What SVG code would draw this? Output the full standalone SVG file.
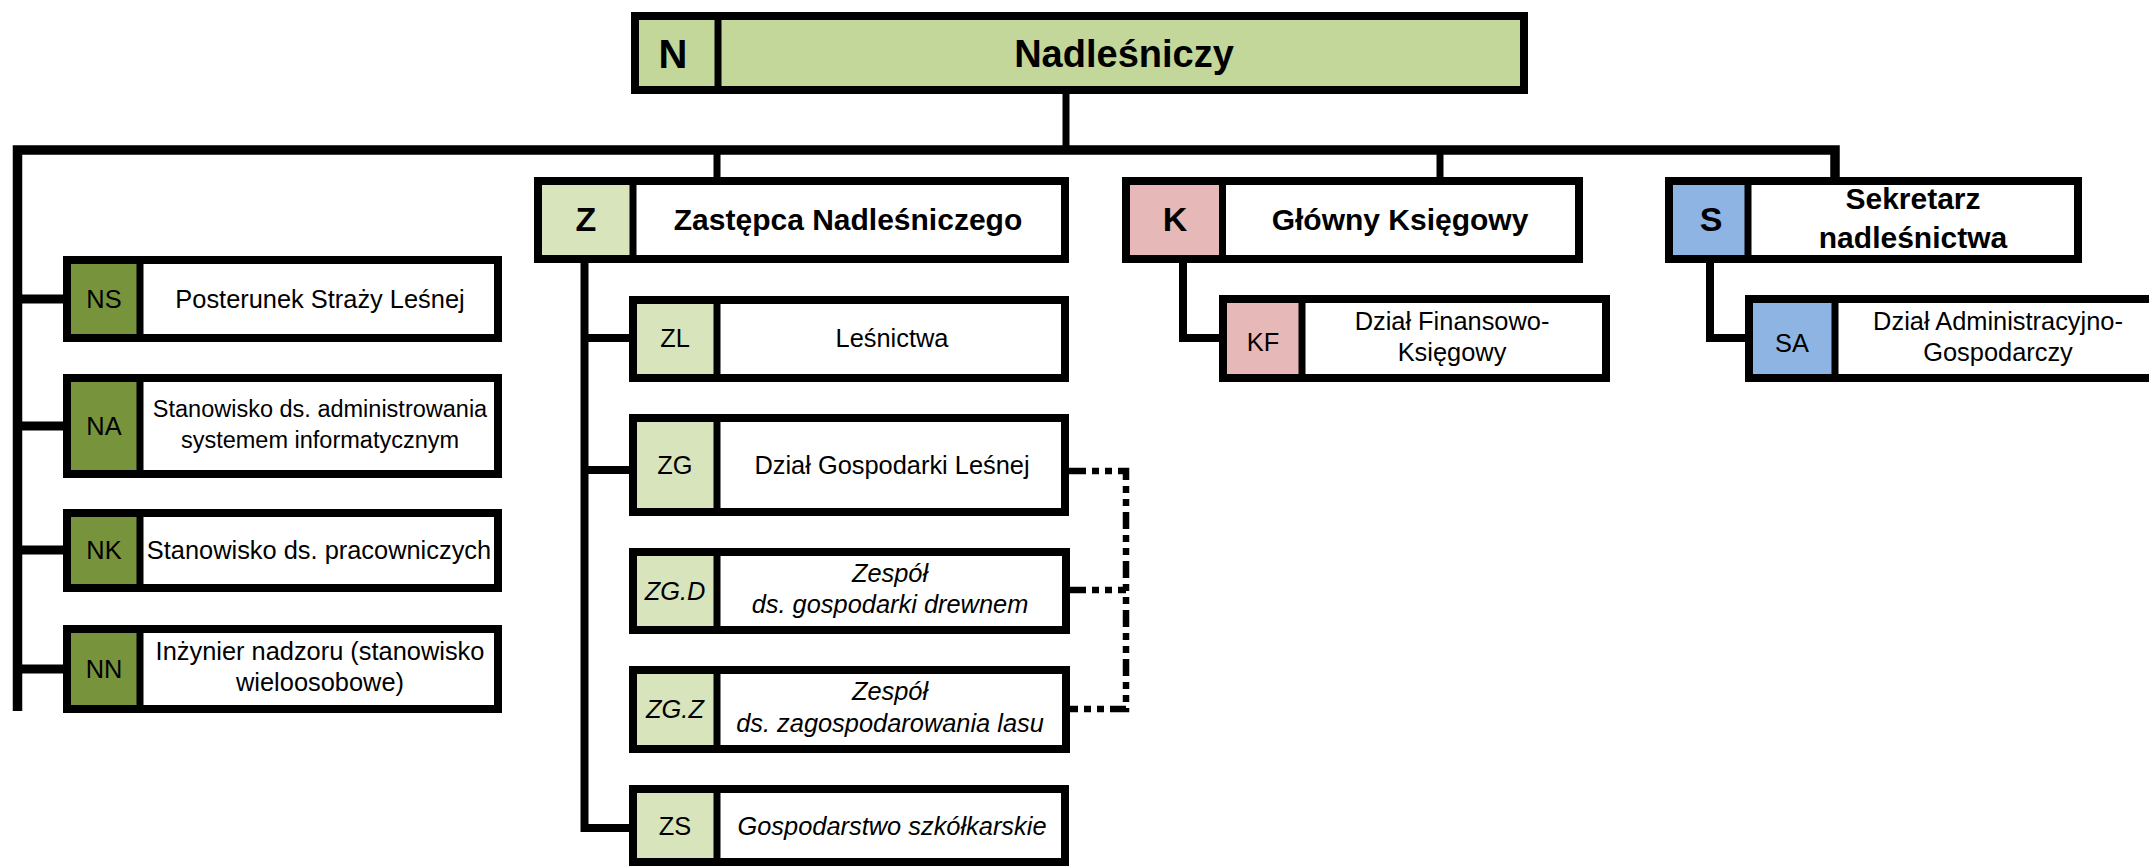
<svg xmlns="http://www.w3.org/2000/svg" width="2149" height="867" viewBox="0 0 2149 867">
<style>
text{font-family:"Liberation Sans",Arial,sans-serif;fill:#000;text-anchor:middle}
.b{stroke:#000;stroke-width:8;fill:none}
.w{fill:#fff}
.dv{stroke:#000;stroke-width:7}
.t{font-size:25.4px}
.t2{font-size:23.5px}
.i{font-style:italic}
.h{font-size:30px;font-weight:bold}
.hl{font-size:34px;font-weight:bold}
.top{font-size:38px;font-weight:bold}
.topl{font-size:40px;font-weight:bold}
.c{fill:none;stroke:#000;stroke-linejoin:miter;stroke-linecap:butt}
.gN{fill:#C4D79B}.gZ{fill:#D8E4BC}.gD{fill:#77933C}.gK{fill:#E6B9B8}.gS{fill:#8DB4E2}
</style>
<rect width="2149" height="867" fill="#fff"/>
<g id="connectors">
<path class="c" stroke-width="9.5" d="M17.5,711 V150 H1835 V177"/>
<path class="c" stroke-width="7" d="M1066,94 V150 M717,150 V177 M1440,150 V177"/>
<path class="c" stroke-width="9" d="M17,299 H63 M17,426 H63 M17,550 H63 M17,669 H63"/>
<path class="c" stroke-width="8" d="M584.5,263 V828 H629 M584.5,338 H629 M584.5,470 H629"/>
<path class="c" stroke-width="8" d="M1183,263 V338 H1219 M1710,263 V338 H1745"/>
<path class="c" stroke-width="6.5" stroke-dasharray="17 6 7 6 7 6" d="M1069,471 H1126 V709 H1069 M1069,590 H1126"/>
</g>
<g id="N">
<rect class="gN" x="635" y="16" width="889" height="74"/>
<rect class="b" x="635" y="16" width="889" height="74"/>
<line class="dv" x1="718" y1="16" x2="718" y2="90" stroke-width="6"/>
<text class="topl" x="673" y="68">N</text>
<text class="top" x="1124" y="67">Nadleśniczy</text>
</g>
<g id="Z">
<rect class="w" x="538" y="181" width="527" height="78"/>
<rect class="gZ" x="538" y="181" width="95" height="78"/>
<rect class="b" x="538" y="181" width="527" height="78"/>
<line class="dv" x1="633" y1="181" x2="633" y2="259" stroke-width="8"/>
<text class="hl" x="586" y="231">Z</text>
<text class="h" x="848" y="230">Zastępca Nadleśniczego</text>
</g>
<g id="K">
<rect class="w" x="1126" y="181" width="453" height="78"/>
<rect class="gK" x="1126" y="181" width="96" height="78"/>
<rect class="b" x="1126" y="181" width="453" height="78"/>
<line class="dv" x1="1222.5" y1="181" x2="1222.5" y2="259"/>
<text class="hl" x="1175" y="231">K</text>
<text class="h" x="1400" y="230">Główny Księgowy</text>
</g>
<g id="S">
<rect class="w" x="1669" y="181" width="409" height="78"/>
<rect class="gS" x="1669" y="181" width="79" height="78"/>
<rect class="b" x="1669" y="181" width="409" height="78"/>
<line class="dv" x1="1748" y1="181" x2="1748" y2="259" stroke-width="8"/>
<text class="hl" x="1711" y="231">S</text>
<text class="h" x="1913" y="209">Sekretarz</text>
<text class="h" x="1913" y="248">nadleśnictwa</text>
</g>
<g id="NS">
<rect class="w" x="67" y="260" width="431" height="78"/>
<rect class="gD" x="67" y="260" width="73" height="78"/>
<rect class="b" x="67" y="260" width="431" height="78"/>
<line class="dv" x1="140" y1="260" x2="140" y2="338"/>
<text class="t" x="104" y="308">NS</text>
<text class="t" x="320" y="308">Posterunek Straży Leśnej</text>
</g>
<g id="NA">
<rect class="w" x="67" y="378" width="431" height="96"/>
<rect class="gD" x="67" y="378" width="73" height="96"/>
<rect class="b" x="67" y="378" width="431" height="96"/>
<line class="dv" x1="140" y1="378" x2="140" y2="474"/>
<text class="t" x="104" y="435">NA</text>
<text class="t2" x="320" y="417">Stanowisko ds. administrowania</text>
<text class="t2" x="320" y="448">systemem informatycznym</text>
</g>
<g id="NK">
<rect class="w" x="67" y="513" width="431" height="75"/>
<rect class="gD" x="67" y="513" width="73" height="75"/>
<rect class="b" x="67" y="513" width="431" height="75"/>
<line class="dv" x1="140" y1="513" x2="140" y2="588"/>
<text class="t" x="104" y="559">NK</text>
<text class="t" x="319" y="559">Stanowisko ds. pracowniczych</text>
</g>
<g id="NN">
<rect class="w" x="67" y="629" width="431" height="80"/>
<rect class="gD" x="67" y="629" width="73" height="80"/>
<rect class="b" x="67" y="629" width="431" height="80"/>
<line class="dv" x1="140" y1="629" x2="140" y2="709"/>
<text class="t" x="104" y="678">NN</text>
<text class="t" x="320" y="660">Inżynier nadzoru (stanowisko</text>
<text class="t" x="320" y="691">wieloosobowe)</text>
</g>
<g id="ZL">
<rect class="w" x="633" y="300" width="432" height="78"/>
<rect class="gZ" x="633" y="300" width="84" height="78"/>
<rect class="b" x="633" y="300" width="432" height="78"/>
<line class="dv" x1="717" y1="300" x2="717" y2="378" stroke-width="8"/>
<text class="t" x="675" y="347">ZL</text>
<text class="t" x="892" y="347">Leśnictwa</text>
</g>
<g id="ZG">
<rect class="w" x="633" y="418" width="432" height="94"/>
<rect class="gZ" x="633" y="418" width="84" height="94"/>
<rect class="b" x="633" y="418" width="432" height="94"/>
<line class="dv" x1="717" y1="418" x2="717" y2="512" stroke-width="8"/>
<text class="t" x="675" y="474">ZG</text>
<text class="t" x="892" y="474">Dział Gospodarki Leśnej</text>
</g>
<g id="ZGD">
<rect class="w" x="633" y="552" width="433" height="78"/>
<rect class="gZ" x="633" y="552" width="84" height="78"/>
<rect class="b" x="633" y="552" width="433" height="78"/>
<line class="dv" x1="717" y1="552" x2="717" y2="630" stroke-width="8"/>
<text class="t i" x="675" y="600">ZG.D</text>
<text class="t i" x="890" y="582">Zespół</text>
<text class="t i" x="890" y="613">ds. gospodarki drewnem</text>
</g>
<g id="ZGZ">
<rect class="w" x="633" y="670" width="433" height="79"/>
<rect class="gZ" x="633" y="670" width="84" height="79"/>
<rect class="b" x="633" y="670" width="433" height="79"/>
<line class="dv" x1="717" y1="670" x2="717" y2="749" stroke-width="8"/>
<text class="t i" x="675" y="718">ZG.Z</text>
<text class="t i" x="890" y="700">Zespół</text>
<text class="t i" x="890" y="732">ds. zagospodarowania lasu</text>
</g>
<g id="ZS">
<rect class="w" x="633" y="789" width="432" height="73"/>
<rect class="gZ" x="633" y="789" width="84" height="73"/>
<rect class="b" x="633" y="789" width="432" height="73"/>
<line class="dv" x1="717" y1="789" x2="717" y2="862" stroke-width="8"/>
<text class="t" x="675" y="835">ZS</text>
<text class="t i" x="892" y="835">Gospodarstwo szkółkarskie</text>
</g>
<g id="KF">
<rect class="w" x="1223" y="299" width="383" height="79"/>
<rect class="gK" x="1223" y="299" width="79" height="79"/>
<rect class="b" x="1223" y="299" width="383" height="79"/>
<line class="dv" x1="1302" y1="299" x2="1302" y2="378" stroke-width="6"/>
<text class="t" x="1263" y="351">KF</text>
<text class="t" x="1452" y="330">Dział Finansowo-</text>
<text class="t" x="1452" y="361">Księgowy</text>
</g>
<g id="SA">
<rect class="w" x="1749" y="299" width="420" height="79"/>
<rect class="gS" x="1749" y="299" width="86" height="79"/>
<rect class="b" x="1749" y="299" width="420" height="79"/>
<line class="dv" x1="1835" y1="299" x2="1835" y2="378" stroke-width="8"/>
<text class="t" x="1792" y="352">SA</text>
<text class="t" x="1998" y="330">Dział Administracyjno-</text>
<text class="t" x="1998" y="361">Gospodarczy</text>
</g>
</svg>
